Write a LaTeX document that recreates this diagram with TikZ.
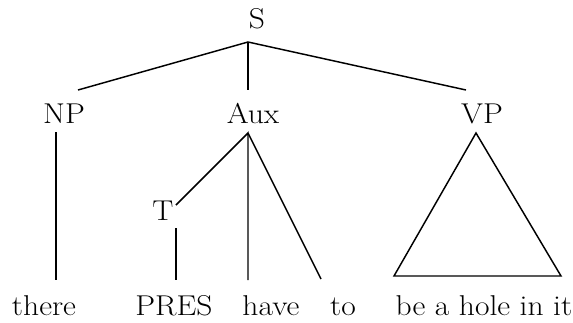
\documentclass[tikz,border=0pt]{standalone}
\usepackage{fontspec}
\setmainfont{Latin Modern Roman}[FakeStretch=1.1]
\begin{document}
\begin{tikzpicture}[x=0.75pt,y=-0.75pt,
  lab/.style={inner sep=0pt,anchor=base,font=\fontsize{21.5}{25}\selectfont},
  edge/.style={line width=1.1pt,line join=miter}]
\useasboundingbox (0,0) rectangle (573,322);
% labels
\node[lab] (S) at (257,28) {S};
\node[lab] (NP) at (64,123) {NP};
\node[lab] (Aux) at (253,123) {Aux};
\node[lab] (VP) at (482,123) {VP};
\node[lab] (T) at (163,220) {T};
\node[lab] (there) at (44,315) {there};
\node[lab] (PRES) at (174,315) {PRES};
\node[lab] (have) at (271,315) {have};
\node[lab] (to) at (343,315) {to};
\node[lab] (rest) at (484,315) {be a hole in it};
% attachment points
\coordinate (Sb) at (248,42);
\coordinate (NPt) at (78,90);
\coordinate (NPb) at (56,132);
\coordinate (Auxt) at (248,90);
\coordinate (Auxb) at (248,133);
\coordinate (VPt) at (466,90);
\coordinate (VPb) at (476,133);
\coordinate (Tt) at (176,205);
\coordinate (Tb) at (176,228);
\coordinate (theret) at (56,280);
\coordinate (PRESt) at (176,280);
\coordinate (havet) at (248,280);
\coordinate (tot) at (321,279);
\coordinate (restl) at (394,276);
\coordinate (restr) at (561,276);
% edges
\draw[edge] (NPt) -- (Sb) -- (VPt);
\draw[edge] (Sb) -- (Auxt);
\draw[edge] (NPb) -- (theret);
\draw[edge] (Tt) -- (Auxb) -- (havet);
\draw[edge] (Auxb) -- (tot);
\draw[edge] (Tb) -- (PRESt);
\draw[edge] (VPb) -- (restl) -- (restr) -- cycle;
\end{tikzpicture}
\end{document}
